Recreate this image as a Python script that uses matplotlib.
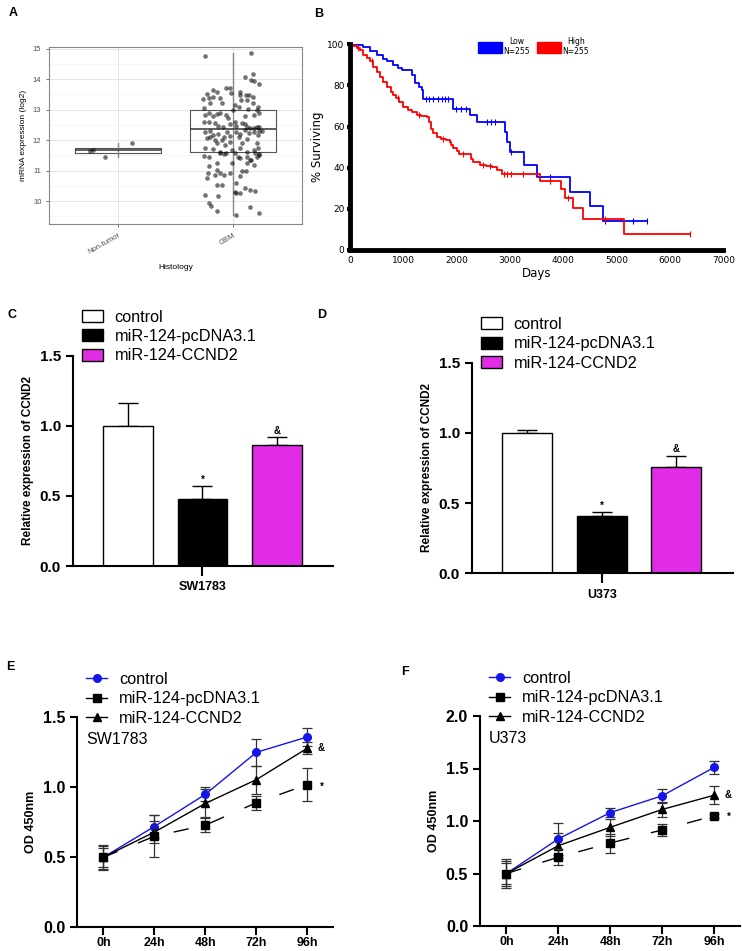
import numpy as np
import matplotlib
matplotlib.use("Agg")
import matplotlib.pyplot as plt
from matplotlib.patches import Patch
from matplotlib.lines import Line2D

plt.rcParams['font.family'] = ['Liberation Sans', 'DejaVu Sans']

W, H = 742, 951

# ---------------- data ----------------
# A: miRNA expression by histology
hist_groups = ['Non-tumor', 'GBM']
nontumor_jit = [-0.24, -0.22, -0.11, 0.12]
nontumor_expr = [11.64, 11.67, 11.44, 11.89]
gbm_jit = [-0.24, 0.16, 0.17, 0.16, 0.18, 0.10, 0.23, 0.11, -0.17, -0.14,
           -0.23, -0.21, -0.26, -0.20, -0.17, -0.11, -0.10, -0.06, -0.03, -0.02,
           0.06, 0.06, 0.07, 0.14, 0.17, 0.12, 0.17, 0.22, 0.23, -0.25,
           -0.24, -0.21, -0.17, -0.14, -0.11, -0.06, 0.00, 0.05, 0.02, 0.10,
           0.13, 0.21, 0.18, -0.25, -0.21, -0.16, -0.13, -0.09, -0.04, -0.03,
           0.02, 0.03, 0.08, 0.10, 0.12, 0.15, 0.18, 0.21, 0.23, 0.25,
           -0.24, -0.20, -0.17, -0.13, -0.08, -0.05, -0.03, 0.03, 0.06, 0.10,
           0.14, 0.18, 0.22, 0.23, -0.23, -0.20, -0.16, -0.14, -0.10, -0.07,
           -0.03, 0.05, 0.08, 0.12, 0.21, 0.22, 0.18, -0.24, -0.17, -0.11,
           -0.08, -0.01, 0.02, 0.06, 0.12, 0.19, 0.23, -0.25, -0.21, -0.11,
           -0.06, 0.04, 0.12, 0.16, 0.21, 0.23, -0.21, -0.14, -0.01, 0.06,
           0.12, 0.18, 0.15, -0.22, -0.14, -0.11, -0.08, -0.03, 0.08, 0.11,
           -0.23, -0.16, -0.14, -0.10, 0.03, 0.06, -0.24, -0.21, -0.19, -0.14,
           -0.13, 0.02, 0.03, 0.06, 0.10, 0.15, 0.19, 0.15, 0.23, 0.03]
gbm_expr = [14.77, 14.85, 14.17, 13.97, 13.94, 14.06, 13.83, 13.47, 13.64, 13.59,
            13.50, 13.37, 13.35, 13.21, 13.43, 13.37, 13.21, 13.70, 13.70, 13.54,
            13.59, 13.48, 13.32, 13.48, 13.43, 13.32, 13.21, 13.08, 12.88, 13.04,
            12.83, 12.88, 12.79, 12.86, 12.88, 12.83, 12.99, 13.08, 13.15, 12.79,
            13.02, 12.99, 12.83, 12.61, 12.58, 12.55, 12.46, 12.44, 12.72, 12.53,
            12.61, 12.46, 12.57, 12.53, 12.44, 12.41, 12.39, 12.44, 12.42, 12.30,
            12.28, 12.30, 12.17, 12.20, 12.11, 12.28, 12.14, 12.28, 12.19, 12.33,
            12.22, 12.28, 12.17, 12.31, 12.06, 12.11, 12.01, 11.90, 12.01, 11.84,
            11.95, 12.09, 11.90, 12.03, 11.90, 11.73, 11.68, 11.73, 11.71, 11.59,
            11.55, 11.68, 11.57, 11.73, 11.62, 11.57, 11.51, 11.49, 11.46, 11.62,
            11.57, 11.46, 11.46, 11.35, 11.46, 11.55, 11.15, 11.24, 11.26, 11.40,
            11.24, 11.19, 11.35, 10.93, 11.02, 10.91, 10.86, 10.91, 10.97, 10.99,
            10.75, 10.86, 10.53, 10.52, 10.58, 10.83, 10.20, 9.93, 9.82, 9.66,
            10.15, 10.31, 10.26, 10.26, 10.42, 10.37, 10.33, 9.81, 9.59, 9.53]
box_q1 = [11.58, 11.61]
box_med = [11.66, 12.37]
box_q3 = [11.73, 12.98]
box_lo = [11.44, 9.55]
box_hi = [11.89, 14.85]

# B: Kaplan-Meier
low_days = [0, 150, 250, 375, 500, 620, 700, 800, 900, 969, 1160, 1218, 1290, 1344,
            1363, 1925, 2250, 2390, 2900, 2940, 3000, 3260, 3510, 4130, 4495, 4745, 5563]
low_surv = [100, 99.5, 98.5, 96.7, 95, 93, 92, 90, 88.5, 87.5, 85, 81, 79, 77.8,
            73.4, 68.5, 65.6, 62, 57.5, 52.6, 47.5, 41.5, 35.6, 28.4, 21.4, 14.3, 14.3]
high_days = [0, 60, 130, 190, 250, 313, 375, 440, 500, 560, 625, 700, 760, 813, 870,
             920, 1000, 1080, 1160, 1250, 1330, 1438, 1480, 1520, 1563, 1625, 1700,
             1800, 1875, 1900, 1938, 2000, 2050, 2270, 2300, 2438, 2550, 2656, 2750,
             2844, 3570, 3960, 4040, 4190, 4365, 5130, 6375]
high_surv = [100, 99, 98, 97, 95, 93.2, 91.9, 89, 86.5, 84, 81.8, 79, 77, 75.3, 74,
             72, 69.7, 68, 67, 65.6, 65, 64.8, 62, 59, 56.7, 55.1, 54,
             53.5, 52.7, 51, 49.4, 48, 46.5, 44, 42.9, 41.3, 40.7, 40.5, 38.9,
             36.9, 33.7, 29.5, 25.1, 20.3, 14.9, 7.8, 7.8]
low_censor = [1420, 1480, 1550, 1650, 1720, 1780, 1830, 1980, 2080, 2180, 2560, 2650,
              2720, 3020, 3750, 4780, 5300, 5563]
high_censor = [150, 420, 900, 1300, 1750, 2120, 2500, 2620, 2880, 2950, 3020,
               3250, 3750, 4080, 4780, 6375]

# C, D: relative CCND2 expression
groups = ['control', 'miR-124-pcDNA3.1', 'miR-124-CCND2']
bar_colors = ['white', 'black', '#E12CE6']
sig_marks = ['', '*', '&']
sw_expr = [1.0, 0.476, 0.861]
sw_err = [0.16, 0.094, 0.057]
u_expr = [1.0, 0.408, 0.755]
u_err = [0.024, 0.026, 0.08]

# E, F: OD450 growth curves
hours = ['0h', '24h', '48h', '72h', '96h']
sw_ctrl = [0.50, 0.72, 0.95, 1.25, 1.36]
sw_ctrl_err = [0.09, 0.085, 0.05, 0.095, 0.065]
sw_pc = [0.50, 0.65, 0.73, 0.89, 1.02]
sw_pc_err = [0.08, 0.15, 0.05, 0.05, 0.12]
sw_cc = [0.50, 0.68, 0.885, 1.055, 1.28]
sw_cc_err = [0.07, 0.08, 0.10, 0.10, 0.045]
u_ctrl = [0.50, 0.83, 1.08, 1.24, 1.51]
u_ctrl_err = [0.14, 0.15, 0.045, 0.065, 0.065]
u_pc = [0.50, 0.655, 0.79, 0.915, 1.05]
u_pc_err = [0.10, 0.075, 0.09, 0.06, 0.02]
u_cc = [0.50, 0.765, 0.94, 1.11, 1.245]
u_cc_err = [0.12, 0.12, 0.08, 0.07, 0.085]

BLUE = '#1515E8'


def box(x0, y0, x1, y1):
    # pixel box -> figure fraction
    return [x0 / W, 1 - y1 / H, (x1 - x0) / W, (y1 - y0) / H]


fig = plt.figure(figsize=(W / 100, H / 100), dpi=100)

# panel letters
for lab, px, py in [('A', 13, 13), ('B', 319, 14), ('C', 12, 315), ('D', 322, 315),
                    ('E', 10, 667), ('F', 405, 672)]:
    fig.text(px / W, 1 - py / H, lab, ha='center', va='center', fontsize=9, weight='bold')

# ---------------- A ----------------
axA = fig.add_axes(box(49, 47, 302, 224))
for pos in [1, 2]:
    axA.vlines(pos, box_lo[pos - 1], box_hi[pos - 1], color='#8a8a8a', lw=0.9, zorder=2)
stats = [dict(med=box_med[i], q1=box_q1[i], q3=box_q3[i], whislo=box_lo[i],
              whishi=box_hi[i], fliers=[]) for i in range(2)]
axA.bxp(stats, positions=[1, 2], widths=0.75, showcaps=False, showfliers=False,
        manage_ticks=False,
        boxprops=dict(color='#555555', lw=0.8),
        medianprops=dict(color='#333333', lw=1.1),
        whiskerprops=dict(color='#8a8a8a', lw=0.9))
axA.scatter(1 + np.array(nontumor_jit), nontumor_expr, s=11, color='black', alpha=0.55, lw=0, zorder=3)
axA.scatter(2 + np.array(gbm_jit), gbm_expr, s=11, color='black', alpha=0.55, lw=0, zorder=3)
axA.set_xlim(0.4, 2.6)
axA.set_ylim(9.245, 15.056)
axA.set_yticks([10, 11, 12, 13, 14, 15])
axA.set_yticks(np.arange(9.5, 15, 1.0), minor=True)
axA.set_xticks([1, 2])
axA.set_xticklabels(hist_groups, rotation=30, ha='right', rotation_mode='anchor')
axA.grid(which='major', color='#E6E6E6', lw=0.7)
axA.grid(which='minor', axis='y', color='#F0F0F0', lw=0.4)
axA.set_axisbelow(True)
axA.tick_params(labelsize=5.5, labelcolor='#4d4d4d', length=2, color='#555555', width=0.6)
axA.tick_params(which='minor', length=0)
for s in axA.spines.values():
    s.set_color('#888888')
    s.set_linewidth(0.8)
axA.set_xlabel('Histology', fontsize=6, labelpad=6)
axA.set_ylabel('mRNA expression (log2)', fontsize=6)

# ---------------- B ----------------
axB = fig.add_axes(box(350, 44.3, 723.3, 250))
axB.step(low_days, low_surv, where='post', color='blue', lw=1.3)
axB.step(high_days, high_surv, where='post', color='red', lw=1.3)
for days, surv, cens, col in [(low_days, low_surv, low_censor, 'blue'),
                              (high_days, high_surv, high_censor, 'red')]:
    idx = np.searchsorted(days, cens, side='right') - 1
    axB.plot(cens, np.array(surv)[idx], ls='none', marker='|', ms=4, mew=0.8, color=col)
axB.set_xlim(0, 7000)
axB.set_ylim(0, 100)
axB.set_xticks(range(0, 7001, 1000))
axB.set_yticks(range(0, 101, 20))
for s in ['top', 'right']:
    axB.spines[s].set_visible(False)
for s in ['left', 'bottom']:
    axB.spines[s].set_linewidth(3.5)
axB.tick_params(length=2.5, width=3, labelsize=6.5, pad=1.5)
for t in axB.get_xticklabels() + axB.get_yticklabels():
    t.set_fontfamily('DejaVu Sans')
axB.set_xlabel('Days', fontsize=8.5, fontfamily='DejaVu Sans', labelpad=2)
axB.set_ylabel('% Surviving', fontsize=8.5, fontfamily='DejaVu Sans', labelpad=2)
legB = fig.legend([Patch(color='blue'), Patch(color='red')], ['Low\nN=255', 'High\nN=255'],
                  loc='upper left', bbox_to_anchor=(478 / W, 1 - 36.5 / H), ncol=2,
                  frameon=False, fontsize=5.5, handlelength=3.1, handleheight=1.75,
                  handletextpad=0.2, columnspacing=1.0, borderpad=0, borderaxespad=0)
for t in legB.get_texts():
    t.set_multialignment('center')
    t.set_fontfamily('DejaVu Sans')


# ---------------- C, D ----------------
def bar_panel(ax, vals, errs, cell):
    x = np.arange(3)
    ax.bar(x, vals, width=0.67, color=bar_colors, edgecolor='black', linewidth=1.0, zorder=2)
    ax.errorbar(x, vals, yerr=[np.zeros(3), errs], fmt='none', ecolor='black',
                elinewidth=1.0, capsize=7.5, capthick=1.0, zorder=1)
    for xi, v, e, m in zip(x, vals, errs, sig_marks):
        if m:
            ax.text(xi, v + e + 0.012, m, ha='center', va='bottom', fontsize=7, weight='bold')
    ax.set_xlim(-0.745, 2.755)
    ax.set_ylim(0, 1.5)
    ax.set_yticks([0, 0.5, 1.0, 1.5])
    ax.set_yticklabels(['0.0', '0.5', '1.0', '1.5'])
    ax.set_xticks([1])
    ax.set_xticklabels([cell])
    for s in ['top', 'right']:
        ax.spines[s].set_visible(False)
    for s in ['left', 'bottom']:
        ax.spines[s].set_linewidth(1.5)
    ax.tick_params(axis='y', length=5, width=1.5, labelsize=11)
    ax.tick_params(axis='x', length=7.5, width=1.5, labelsize=9)
    for t in ax.get_xticklabels() + ax.get_yticklabels():
        t.set_fontweight('bold')
    ax.set_ylabel('Relative expression of CCND2', fontsize=8.5, weight='bold')


axC = fig.add_axes(box(72.7, 355.7, 333, 566))
bar_panel(axC, sw_expr, sw_err, 'SW1783')
axD = fig.add_axes(box(471.7, 362.7, 732.7, 573.3))
bar_panel(axD, u_expr, u_err, 'U373')

bar_handles = [Patch(facecolor=c, edgecolor='black', linewidth=1.0) for c in bar_colors]
for px, py in [(82, 309.5), (481, 317)]:
    fig.legend(bar_handles, groups, loc='upper left', bbox_to_anchor=(px / W, 1 - py / H),
               frameon=False, fontsize=11.7, handlelength=1.3, handleheight=0.76,
               handletextpad=0.7, labelspacing=0.27, borderpad=0, borderaxespad=0)


# ---------------- E, F ----------------
def growth_panel(ax, ctrl, ctrl_err, pc, pc_err, cc, cc_err, ymax, cell, cell_y):
    x = np.arange(5)
    ax.errorbar(x, ctrl, yerr=ctrl_err, color=BLUE, marker='o', ms=5.5, lw=1.0,
                ecolor='#333333', elinewidth=0.9, capsize=3.5, capthick=0.9, zorder=3)
    ax.errorbar(x, cc, yerr=cc_err, color='black', marker='^', ms=5.5, lw=1.0,
                ecolor='#333333', elinewidth=0.9, capsize=3.5, capthick=0.9, zorder=3)
    ax.errorbar(x, pc, yerr=pc_err, color='black', marker='s', ms=5.5, lw=1.0,
                ls=(0, (11, 16)), ecolor='#333333', elinewidth=0.9, capsize=3.5,
                capthick=0.9, zorder=4)
    ax.text(4.27, cc[-1], '&', ha='center', va='center', fontsize=7, weight='bold')
    ax.text(4.28, pc[-1] - 0.015, '*', ha='center', va='center', fontsize=7, weight='bold')
    ax.text(-0.34, cell_y, cell, ha='left', va='center', fontsize=11.5)
    ax.set_xlim(-0.51, 4.5)
    ax.set_ylim(0, ymax)
    yt = np.arange(0, ymax + 0.01, 0.5)
    ax.set_yticks(yt)
    ax.set_yticklabels([f'{v:.1f}' for v in yt])
    ax.set_xticks(x)
    ax.set_xticklabels(hours)
    for s in ['top', 'right']:
        ax.spines[s].set_visible(False)
    for s in ['left', 'bottom']:
        ax.spines[s].set_linewidth(1.5)
    ax.tick_params(axis='y', length=5, width=1.5, labelsize=11.5)
    ax.tick_params(axis='x', length=5.5, width=1.5, labelsize=9, pad=1.5)
    for t in ax.get_xticklabels() + ax.get_yticklabels():
        t.set_fontweight('bold')
    ax.set_ylabel('OD 450nm', fontsize=9, weight='bold')


axE = fig.add_axes(box(77.3, 717.3, 333, 927.3))
growth_panel(axE, sw_ctrl, sw_ctrl_err, sw_pc, sw_pc_err, sw_cc, sw_cc_err, 1.5, 'SW1783', 1.34)
axF = fig.add_axes(box(480, 716, 740, 926))
growth_panel(axF, u_ctrl, u_ctrl_err, u_pc, u_pc_err, u_cc, u_cc_err, 2.0, 'U373', 1.787)

line_handles = [Line2D([], [], color=BLUE, marker='o', ms=5.5, lw=1.0),
                Line2D([], [], color='black', marker='s', ms=5.5, lw=1.0),
                Line2D([], [], color='black', marker='^', ms=5.5, lw=1.0)]
for px, py in [(86, 672), (489, 671)]:
    fig.legend(line_handles, groups, loc='upper left', bbox_to_anchor=(px / W, 1 - py / H),
               frameon=False, fontsize=11.7, handlelength=1.3, handletextpad=0.75,
               labelspacing=0.27, borderpad=0, borderaxespad=0)

fig.savefig('out.png', dpi=100)
